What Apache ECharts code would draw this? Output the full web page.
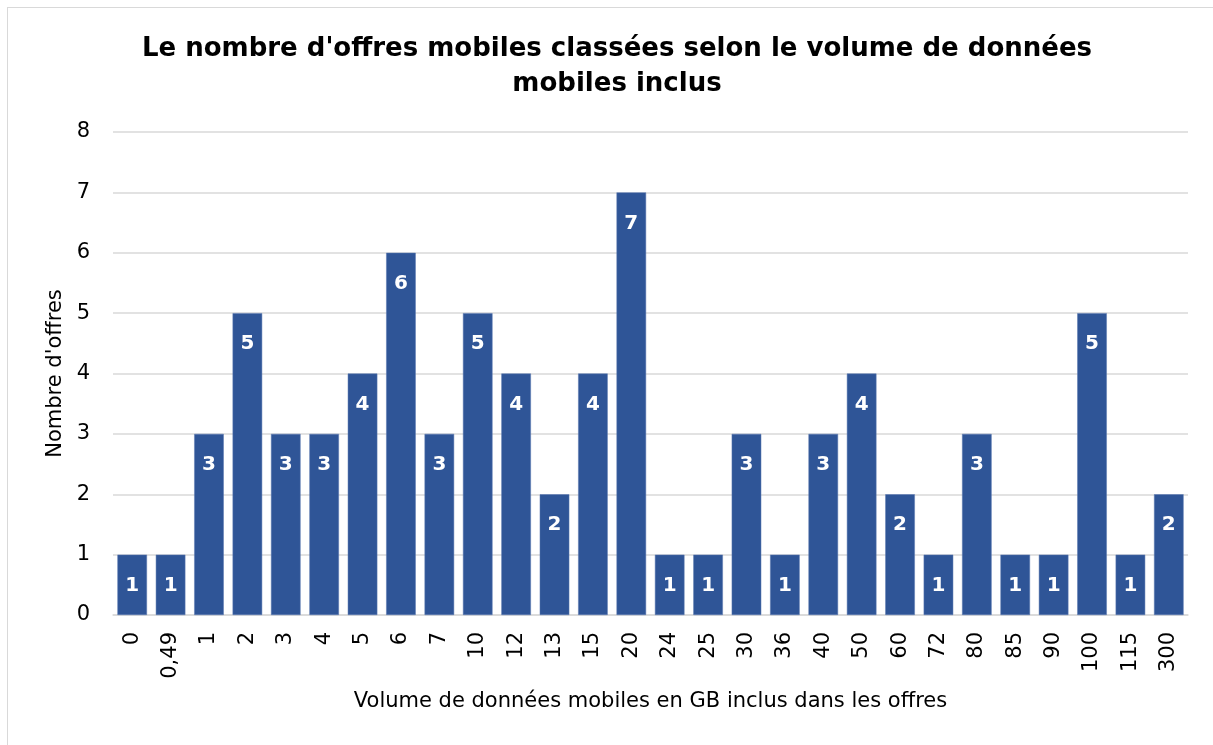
<!DOCTYPE html>
<html>
<head>
<meta charset="utf-8">
<script src="https://cdn.jsdelivr.net/npm/echarts@6/dist/echarts.min.js"></script>
<style>
  html, body { margin: 0; padding: 0; background: #fff; }
  #frame { position: absolute; left: 7px; top: 7px; width: 1220px; height: 760px; border: 1px solid #d9d9d9; }
  #main { width: 1213px; height: 745px; position: absolute; left: 0; top: 0; }
</style>
</head>
<body>
<div id="frame"></div>
<div id="main"></div>
<script>
// volume de données (GB) et nombre d'offres
var categories = ['0', '0,49', '1', '2', '3', '4', '5', '6', '7', '10', '12', '13', '15', '20',
  '24', '25', '30', '36', '40', '50', '60', '72', '80', '85', '90', '100', '115', '300'];
var offres = [1, 1, 3, 5, 3, 3, 4, 6, 3, 5, 4, 2, 4, 7, 1, 1, 3, 1, 3, 4, 2, 1, 3, 1, 1, 5, 1, 2];

var chart = echarts.init(document.getElementById('main'));
var font = 'DejaVu Sans';

var option = {
  animation: false,
  title: {
    text: "Le nombre d'offres mobiles classées selon le volume de données\nmobiles inclus",
    left: 612,
    textAlign: 'center',
    top: 27,
    textStyle: { fontFamily: font, fontWeight: 'bold', fontSize: 26, lineHeight: 35, color: '#000' }
  },
  grid: { left: 113, right: 25, top: 132, bottom: 130 },
  xAxis: {
    type: 'category',
    data: categories,
    name: 'Volume de données mobiles en GB inclus dans les offres',
    nameLocation: 'middle',
    nameGap: 76,
    nameTextStyle: { fontFamily: font, fontSize: 21, color: '#000' },
    axisLine: { lineStyle: { color: '#d9d9d9', width: 1.5 } },
    axisTick: { show: false },
    axisLabel: { rotate: 90, fontFamily: font, fontSize: 21, color: '#000', margin: 17 }
  },
  yAxis: {
    type: 'value',
    min: 0,
    max: 8,
    interval: 1,
    name: "Nombre d'offres",
    nameLocation: 'middle',
    nameGap: 44,
    nameTextStyle: { fontFamily: font, fontSize: 21, color: '#000' },
    axisLabel: { fontFamily: font, fontSize: 21, color: '#000', margin: 23 },
    splitLine: { lineStyle: { color: '#d9d9d9', width: 1.5 } }
  },
  series: [{
    type: 'bar',
    data: offres,
    barCategoryGap: '23%',
    itemStyle: { color: '#2F5597', borderColor: '#5a78b0', borderWidth: 0.5 },
    label: {
      show: true,
      position: 'insideTop',
      distance: 21,
      color: '#fff',
      fontFamily: font,
      fontWeight: 'bold',
      fontSize: 20
    }
  }]
};

chart.setOption(option);
</script>
</body>
</html>
